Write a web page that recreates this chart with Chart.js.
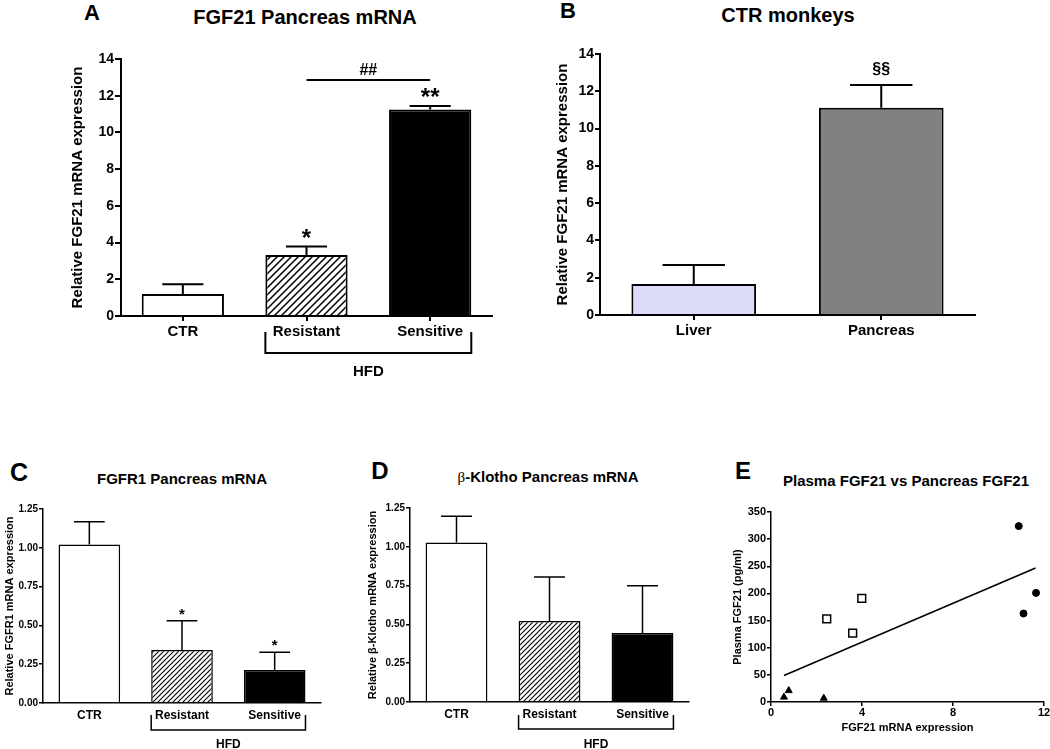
<!DOCTYPE html>
<html>
<head>
<meta charset="utf-8">
<script src="https://cdn.jsdelivr.net/npm/chart.js@4.4.0/dist/chart.umd.min.js"></script>
<style>
  body { margin: 0; width: 1050px; height: 749px; background: #fff; position: relative; overflow: hidden;
         font-family: "Liberation Sans", Arial, sans-serif; }
  canvas { position: absolute; }
  .lbl { position: absolute; font-weight: bold; color: #000; white-space: nowrap; transform: translate(-50%, -50%); }
  .beta { font-family: "Liberation Serif", serif; font-weight: normal; }
</style>
</head>
<body>
<!-- panel letters and titles -->
<div class="lbl" style="left:92px;top:13px;font-size:22px">A</div>
<div class="lbl" style="left:305px;top:17px;font-size:20px">FGF21 Pancreas mRNA</div>
<div class="lbl" style="left:568px;top:11px;font-size:22px">B</div>
<div class="lbl" style="left:788px;top:15px;font-size:20px">CTR monkeys</div>
<div class="lbl" style="left:19px;top:472px;font-size:25px">C</div>
<div class="lbl" style="left:182px;top:478px;font-size:15px">FGFR1 Pancreas mRNA</div>
<div class="lbl" style="left:380px;top:471px;font-size:24px">D</div>
<div class="lbl" style="left:548px;top:477px;font-size:15px"><span class="beta">β</span>-Klotho Pancreas mRNA</div>
<div class="lbl" style="left:743px;top:471px;font-size:24px">E</div>
<div class="lbl" style="left:906px;top:480px;font-size:15px">Plasma FGF21 vs Pancreas FGF21</div>

<canvas id="chartA" width="440" height="350" style="left:60px;top:40px"></canvas>
<canvas id="chartB" width="470" height="320" style="left:520px;top:35px"></canvas>
<canvas id="chartC" width="335" height="259" style="left:0px;top:490px"></canvas>
<canvas id="chartD" width="355" height="259" style="left:340px;top:490px"></canvas>
<canvas id="chartE" width="362" height="259" style="left:690px;top:490px"></canvas>

<script>
// ---- data ----
const groups = ['CTR', 'Resistant', 'Sensitive'];

// A: FGF21 pancreas mRNA
const fgf21Mean = [1.2, 3.32, 11.25];
const fgf21Sem = [0.53, 0.46, 0.19];
const fgf21Marks = ['', '*', '**'];

// B: CTR monkeys
const tissues = ['Liver', 'Pancreas'];
const tissueMean = [1.66, 11.12];
const tissueSem = [1.02, 1.22];
const tissueMarks = ['', '§§'];

// C: FGFR1
const fgfr1Mean = [1.022, 0.341, 0.213];
const fgfr1Sem = [0.146, 0.189, 0.114];
const fgfr1Marks = ['', '*', '*'];

// D: beta-Klotho
const klothoMean = [1.028, 0.522, 0.445];
const klothoSem = [0.169, 0.283, 0.304];
const klothoMarks = ['', '', ''];

// E: plasma vs pancreas FGF21
const ctrMrna = [0.57, 0.78, 2.32];
const ctrPlasma = [9, 21, 7];
const resMrna = [2.45, 3.59, 3.99];
const resPlasma = [153, 127, 191];
const senMrna = [10.89, 11.1, 11.65];
const senPlasma = [324, 163, 201];
const fitMrna = [0.57, 11.63];
const fitPlasma = [49, 247];

Chart.defaults.font.family = '"Liberation Sans", Arial, sans-serif';
Chart.defaults.font.weight = 'bold';
Chart.defaults.color = '#000';

// diagonal hatch fill
function hatch(size, lw) {
  const c = document.createElement('canvas');
  c.width = size; c.height = size;
  const g = c.getContext('2d');
  g.fillStyle = '#fff';
  g.fillRect(0, 0, size, size);
  g.strokeStyle = '#000';
  g.lineWidth = lw;
  g.beginPath();
  g.moveTo(-1, size + 1); g.lineTo(size + 1, -1);
  g.moveTo(-1, 1); g.lineTo(1, -1);
  g.moveTo(size - 1, size + 1); g.lineTo(size + 1, size - 1);
  g.stroke();
  return g.createPattern(c, 'repeat');
}

// error bars, significance marks, comparison line and HFD bracket
const extras = {
  id: 'extras',
  afterDatasetsDraw(chart, args, o) {
    const ctx = chart.ctx;
    const ds = chart.data.datasets[0];
    const bars = chart.getDatasetMeta(0).data;
    const y = chart.scales.y;
    ctx.save();
    ctx.strokeStyle = '#000';
    ctx.fillStyle = '#000';
    ctx.lineWidth = o.lineWidth;
    ctx.textAlign = 'center';
    bars.forEach((bar, i) => {
      const top = y.getPixelForValue(ds.data[i] + ds.errors[i]);
      const half = bar.width / 4;
      ctx.beginPath();
      ctx.moveTo(bar.x, bar.y);
      ctx.lineTo(bar.x, top);
      ctx.moveTo(bar.x - half, top);
      ctx.lineTo(bar.x + half, top);
      ctx.stroke();
      if (ds.marks[i]) {
        ctx.font = o.markFont;
        ctx.textBaseline = 'alphabetic';
        ctx.fillText(ds.marks[i], bar.x, top - o.markGap);
      }
    });
    if (o.compare) {
      const c = o.compare;
      const ly = y.getPixelForValue(c.value);
      ctx.beginPath();
      ctx.moveTo(bars[c.from].x, ly);
      ctx.lineTo(bars[c.to].x, ly);
      ctx.stroke();
      ctx.font = c.font;
      ctx.textBaseline = 'middle';
      ctx.fillText(c.label, (bars[c.from].x + bars[c.to].x) / 2, ly - c.gap);
    }
    if (o.bracket) {
      const b = o.bracket;
      const base = chart.chartArea.bottom;
      const x1 = bars[b.from].x - bars[b.from].width / 2;
      const x2 = bars[b.to].x + bars[b.to].width / 2;
      ctx.lineWidth = b.lineWidth;
      ctx.beginPath();
      ctx.moveTo(x1, base + b.top);
      ctx.lineTo(x1, base + b.bottom);
      ctx.lineTo(x2, base + b.bottom);
      ctx.lineTo(x2, base + b.top);
      ctx.stroke();
      ctx.font = b.font;
      ctx.textBaseline = 'middle';
      ctx.fillText(b.label, (x1 + x2) / 2, base + b.labelY);
    }
    ctx.restore();
  }
};

function barPanel(id, s) {
  return new Chart(document.getElementById(id), {
    type: 'bar',
    data: {
      labels: s.labels,
      datasets: [{
        data: s.mean,
        errors: s.sem,
        marks: s.marks,
        backgroundColor: s.fills,
        borderColor: '#000',
        borderWidth: s.lw,
        categoryPercentage: 1,
        barPercentage: 0.665
      }]
    },
    options: {
      responsive: false,
      animation: false,
      layout: { padding: s.pad },
      plugins: { legend: { display: false }, tooltip: { enabled: false }, extras: s.extras },
      scales: {
        x: {
          grid: { display: s.xTicks, drawTicks: s.xTicks, drawOnChartArea: false, offset: false,
                  color: '#000', lineWidth: s.lw, tickLength: 5 },
          border: { display: true, color: '#000', width: s.lw },
          ticks: { font: { size: s.catSize, weight: 'bold' }, padding: s.xPad, maxRotation: 0 },
          afterFit: sc => { sc.height = s.xh; }
        },
        y: {
          min: 0, max: s.max,
          grid: { drawOnChartArea: false, color: '#000', lineWidth: s.lw, tickLength: s.tickLen },
          border: { display: true, color: '#000', width: s.lw },
          ticks: { stepSize: s.step, font: { size: s.tickSize, weight: 'bold' }, padding: 1,
                   callback: v => s.fmt ? v.toFixed(2) : v },
          title: { display: true, text: s.yTitle, font: { size: s.titleSize, weight: 'bold' },
                   padding: { top: s.titlePad, bottom: 0 } },
          afterFit: sc => { sc.width = s.yw; }
        }
      }
    },
    plugins: [extras]
  });
}

const hatchBig = hatch(7, 1.5);
const hatchSmall = hatch(5, 1.1);

barPanel('chartA', {
  labels: groups, mean: fgf21Mean, sem: fgf21Sem, marks: fgf21Marks,
  fills: ['#fff', hatchBig, '#000'], lw: 2,
  pad: { left: 0, right: 8, top: 19, bottom: 0 }, xh: 74, yw: 61,
  max: 14, step: 2, tickLen: 6, tickSize: 14, catSize: 15, xTicks: true, xPad: 2,
  yTitle: 'Relative FGF21 mRNA expression', titleSize: 15, titlePad: 9,
  extras: {
    lineWidth: 2, markFont: 'bold 24px "Liberation Sans", Arial', markGap: 1,
    compare: { from: 1, to: 2, value: 12.85, label: '##', gap: 10, font: 'bold 16px "Liberation Sans", Arial' },
    bracket: { from: 1, to: 2, top: 16, bottom: 37, labelY: 56, label: 'HFD', lineWidth: 2,
               font: 'bold 15px "Liberation Sans", Arial' }
  }
});

barPanel('chartB', {
  labels: tissues, mean: tissueMean, sem: tissueSem, marks: tissueMarks,
  fills: ['#dcdcfa', '#808080'], lw: 2,
  pad: { left: 0, right: 15, top: 19, bottom: 0 }, xh: 40, yw: 80,
  max: 14, step: 2, tickLen: 5, tickSize: 14, catSize: 15, xTicks: true, xPad: 2,
  yTitle: 'Relative FGF21 mRNA expression', titleSize: 15, titlePad: 34,
  extras: { lineWidth: 2, markFont: 'bold 16px "Liberation Sans", Arial', markGap: 11 }
});

barPanel('chartC', {
  labels: groups, mean: fgfr1Mean, sem: fgfr1Sem, marks: fgfr1Marks,
  fills: ['#fff', hatchSmall, '#000'], lw: 1.5,
  pad: { left: 0, right: 14, top: 19, bottom: 0 }, xh: 46, yw: 43,
  max: 1.25, step: 0.25, fmt: true, tickLen: 4, tickSize: 10, catSize: 12, xTicks: false, xPad: 5,
  yTitle: 'Relative FGFR1 mRNA expression', titleSize: 11, titlePad: 3,
  extras: {
    lineWidth: 1.5, markFont: 'bold 15px "Liberation Sans", Arial', markGap: 2,
    bracket: { from: 1, to: 2, top: 12, bottom: 27, labelY: 42, label: 'HFD', lineWidth: 1.5,
               font: 'bold 12px "Liberation Sans", Arial' }
  }
});

barPanel('chartD', {
  labels: groups, mean: klothoMean, sem: klothoSem, marks: klothoMarks,
  fills: ['#fff', hatchSmall, '#000'], lw: 1.5,
  pad: { left: 0, right: 6, top: 18, bottom: 0 }, xh: 47, yw: 70,
  max: 1.25, step: 0.25, fmt: true, tickLen: 4, tickSize: 10, catSize: 12, xTicks: false, xPad: 5,
  yTitle: 'Relative β-Klotho mRNA expression', titleSize: 11, titlePad: 26,
  extras: {
    lineWidth: 1.5, markFont: 'bold 15px "Liberation Sans", Arial', markGap: 2,
    bracket: { from: 1, to: 2, top: 13, bottom: 27, labelY: 43, label: 'HFD', lineWidth: 1.5,
               font: 'bold 12px "Liberation Sans", Arial' }
  }
});

// Panel E: scatter with regression line
const pts = (xs, ys) => xs.map((x, i) => ({ x: x, y: ys[i] }));
new Chart(document.getElementById('chartE'), {
  type: 'scatter',
  data: {
    datasets: [
      { data: pts(ctrMrna, ctrPlasma), pointStyle: 'triangle', pointRadius: 4,
        backgroundColor: '#000', borderColor: '#000', borderWidth: 1 },
      { data: pts(resMrna, resPlasma), pointStyle: 'rect', pointRadius: 5.5,
        backgroundColor: '#fff', borderColor: '#000', borderWidth: 1.5 },
      { data: pts(senMrna, senPlasma), pointStyle: 'circle', pointRadius: 3.5,
        backgroundColor: '#000', borderColor: '#000', borderWidth: 1 },
      { type: 'line', data: pts(fitMrna, fitPlasma), borderColor: '#000', borderWidth: 1.6,
        pointRadius: 0, fill: false }
    ]
  },
  options: {
    responsive: false,
    animation: false,
    layout: { padding: { left: 0, right: 8, top: 22, bottom: 0 } },
    plugins: { legend: { display: false }, tooltip: { enabled: false } },
    scales: {
      x: {
        min: 0, max: 12,
        grid: { drawOnChartArea: false, color: '#000', lineWidth: 1.5, tickLength: 4 },
        border: { display: true, color: '#000', width: 1.5 },
        ticks: { stepSize: 4, font: { size: 11, weight: 'bold' }, padding: 0 },
        title: { display: true, text: 'FGF21 mRNA expression', font: { size: 11, weight: 'bold' },
                 padding: { top: 0, bottom: 14 } },
        afterFit: sc => { sc.height = 47; }
      },
      y: {
        min: 0, max: 350,
        grid: { drawOnChartArea: false, color: '#000', lineWidth: 1.5, tickLength: 4 },
        border: { display: true, color: '#000', width: 1.5 },
        ticks: { stepSize: 50, font: { size: 11, weight: 'bold' }, padding: 1 },
        title: { display: true, text: 'Plasma FGF21 (pg/ml)', font: { size: 11, weight: 'bold' },
                 padding: { top: 41, bottom: 0 } },
        afterFit: sc => { sc.width = 81; }
      }
    }
  }
});
</script>
</body>
</html>
